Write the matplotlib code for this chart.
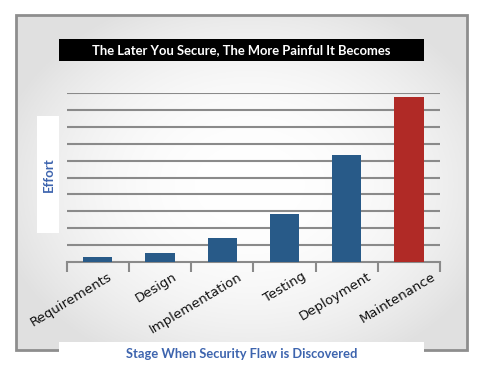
import numpy as np
import matplotlib.pyplot as plt
import matplotlib.transforms as mtransforms
from matplotlib.patches import Rectangle

stages = ['Requirements', 'Design', 'Implementation', 'Testing', 'Deployment', 'Maintenance']
effort = [0.28, 0.5, 1.39, 2.82, 6.31, 9.78]
bar_colors = ['#285a88', '#285a88', '#285a88', '#285a88', '#285a88', '#b02a26']

title = 'The Later You Secure, The More Painful It Becomes'
xlabel = 'Stage When Security Flaw is Discovered'
ylabel = 'Effort'

W, H = 487, 379
fig = plt.figure(figsize=(W / 100, H / 100), dpi=100)
fig.patch.set_facecolor('white')

# background panel with radial gradient
bg = fig.add_axes([0, 0, 1, 1])
bg.set_xlim(0, W)
bg.set_ylim(H, 0)
bg.axis('off')
gx, gy = np.meshgrid(np.linspace(16, 467, 300), np.linspace(15, 350, 220))
r = np.sqrt(((gx - 250) / 260) ** 2 + ((gy - 185) / 200) ** 2)
shade = 1 - 0.12 * np.clip(r, 0, 1) ** 2.2
bg.imshow(np.dstack([shade] * 3), extent=(16, 467, 350, 15), aspect='auto', zorder=0)
bg.add_patch(Rectangle((16, 15), 451, 335, fill=False, ec='#8e8e8e', lw=2, zorder=1))

# title bar
bg.add_patch(Rectangle((59, 39), 365, 22, fc='black', ec='none', zorder=2))
bg.text(241.5, 50.5, title, color='white', fontsize=9.4, fontweight='bold',
        family='Lato', ha='center', va='center', zorder=3)

# y label box
bg.add_patch(Rectangle((37, 116), 22, 117, fc='white', ec='none', zorder=2))
bg.text(48.5, 174.5, ylabel, color='#3d64ae', fontsize=9.5, fontweight='bold',
        family='Lato', rotation=90, ha='center', va='center', zorder=3)

# x label box
bg.add_patch(Rectangle((59, 341.5), 365, 40, fc='white', ec='none', zorder=2))
bg.text(241.5, 354, xlabel, color='#3d64ae', fontsize=9.3, fontweight='bold',
        family='Lato', ha='center', va='center', zorder=3)

# main chart
ax = fig.add_axes([66.7 / W, 1 - 261.7 / H, (440 - 66.7) / W, (261.7 - 93.3) / H])
ax.patch.set_alpha(0)
x = np.arange(len(stages))
ax.bar(x, effort, width=0.47, color=bar_colors, zorder=3)
ax.set_xlim(-0.5, len(stages) - 0.5)
ax.set_ylim(0, 10)
ax.set_yticks(np.arange(1, 11))
ax.yaxis.grid(True, color='#8a8a8a', lw=1.5)
ax.set_axisbelow(True)
ax.tick_params(axis='y', left=False, labelleft=False)
for s in ['left', 'right', 'top']:
    ax.spines[s].set_visible(False)
ax.spines['bottom'].set_color('#8a8a8a')
ax.spines['bottom'].set_linewidth(1.5)

ax.set_xticks(np.arange(-0.5, len(stages)), minor=True)
ax.tick_params(axis='x', which='minor', length=7, width=1.5, color='#8a8a8a', direction='out')
ax.set_xticks(x)
ax.set_xticklabels(stages, rotation=31, ha='right', rotation_mode='anchor', fontsize=9.5, color='#111111')
ax.tick_params(axis='x', which='major', length=0, pad=6)

for i, lab in enumerate(ax.get_xticklabels()):
    lab.set_transform(lab.get_transform() + mtransforms.ScaledTranslation((0.10 + 0.025 * i), 0, fig.dpi_scale_trans))

fig.savefig('out.png', dpi=100, facecolor='white')
